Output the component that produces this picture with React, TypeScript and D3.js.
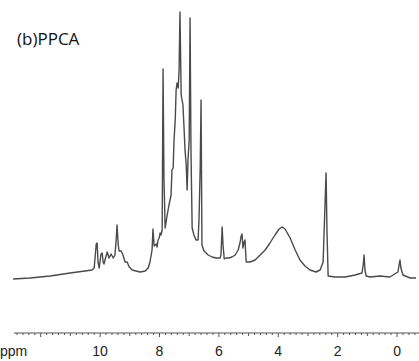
import React from "react";
import * as d3 from "d3";

// Spectrum trace: chemical shift (ppm) and intensity (arbitrary units)
const ppmValues: number[] = [
  12.93, 12.36, 11.68, 11.01, 10.51, 10.27, 10.2, 10.13, 10.1, 10.07, 10.03, 9.97, 9.93, 9.9, 9.87,
  9.8, 9.76, 9.7, 9.63, 9.56, 9.5, 9.46, 9.43, 9.39, 9.36, 9.29, 9.23, 9.16, 9.09, 9.02, 8.92,
  8.79, 8.65, 8.48, 8.38, 8.32, 8.25, 8.22, 8.18, 8.11, 8.08, 8.05, 8.01, 7.98, 7.95, 7.91, 7.88,
  7.85, 7.81, 7.74, 7.68, 7.61, 7.58, 7.54, 7.51, 7.47, 7.44, 7.41, 7.37, 7.34, 7.31, 7.27, 7.24,
  7.21, 7.17, 7.14, 7.1, 7.07, 7.04, 7.0, 6.97, 6.94, 6.9, 6.84, 6.77, 6.7, 6.67, 6.63, 6.6, 6.57,
  6.5, 6.36, 6.23, 6.09, 5.96, 5.93, 5.89, 5.86, 5.82, 5.76, 5.66, 5.56, 5.45, 5.35, 5.29, 5.25,
  5.22, 5.19, 5.15, 5.12, 5.08, 4.95, 4.78, 4.61, 4.44, 4.28, 4.11, 3.97, 3.87, 3.77, 3.6, 3.43,
  3.27, 3.1, 2.93, 2.73, 2.59, 2.49, 2.42, 2.39, 2.36, 2.32, 2.09, 1.75, 1.41, 1.18, 1.14, 1.11,
  1.08, 1.04, 0.91, 0.57, 0.24, -0.03, -0.07, -0.1, -0.13, -0.2, -0.44, -0.64,
];
const intensityValues: number[] = [
  1, 2, 4, 7, 9, 10, 12, 36, 37, 18, 12, 26, 27, 18, 16,
  24, 28, 22, 26, 22, 25, 40, 55, 35, 29, 29, 25, 18, 18, 13, 10,
  9, 8, 9, 12, 18, 30, 51, 34, 36, 33, 40, 42, 47, 45, 50, 211,
  102, 52, 65, 75, 85, 110, 112, 140, 160, 190, 197, 192, 210, 268, 185, 180,
  175, 150, 130, 115, 90, 120, 140, 262, 130, 52, 45, 40, 40, 60, 110, 180, 35,
  29, 25, 23, 22, 22, 25, 53, 35, 21, 22, 22, 23, 25, 30, 37, 44,
  46, 32, 38, 40, 18, 18, 20, 25, 30, 37, 45, 51, 53, 51, 42, 30,
  20, 14, 10, 8, 10, 18, 80, 107, 50, 4, 3, 3, 5, 7, 15, 25,
  10, 4, 3, 4, 3, 8, 15, 20, 12, 5, 2, 2,
];

const axisMin = -0.74;
const axisMax = 12.9;
const majorTickLabels: number[] = [10, 8, 6, 4, 2, 0];
const axisUnit = "ppm";
const title = "(b)PPCA";

export default function App() {
  const width = 419;
  const height = 361;
  const axisY = 333;

  const x = d3.scaleLinear().domain([axisMax, axisMin]).range([14, 419]);
  const y = d3.scaleLinear().domain([0, 270]).range([280, 10]);

  const pts: [number, number][] = ppmValues.map((p, i) => [p, intensityValues[i]]);
  const line = d3
    .line<[number, number]>()
    .x((d) => x(d[0]))
    .y((d) => y(d[1]))
    .curve(d3.curveLinear);

  const minorTicks = d3.range(-0.6, 12.81, 0.2).map((v) => Math.round(v * 10) / 10);

  return (
    <svg
      width={width}
      height={height}
      style={{ position: "absolute", left: 0, top: 0, background: "#fff" }}
    >
      <text
        x={17}
        y={45}
        fontFamily="'Open Sans', 'Noto Sans', sans-serif"
        fontSize={17}
        fill="#111"
      >
        {title}
      </text>
      <path d={line(pts) || ""} fill="none" stroke="#4a4a4a" strokeWidth={1.4} strokeLinejoin="round" />
      <line x1={14} x2={419} y1={axisY} y2={axisY} stroke="#555" strokeWidth={1} />
      {minorTicks.map((t) => {
        const isInt = Math.abs(t - Math.round(t)) < 1e-6;
        const isMajor = isInt && Math.round(t) % 2 === 0;
        const len = isMajor ? 4 : isInt ? 3 : 2;
        return (
          <line
            key={t}
            x1={x(t)}
            x2={x(t)}
            y1={axisY}
            y2={axisY + len}
            stroke="#555"
            strokeWidth={1}
          />
        );
      })}
      {majorTickLabels.map((t) => (
        <text
          key={t}
          x={x(t)}
          y={356}
          textAnchor="middle"
          fontFamily="'Liberation Sans', Arial, sans-serif"
          fontSize={14}
          fill="#222"
        >
          {t}
        </text>
      ))}
      <text x={0} y={356} fontFamily="'Liberation Sans', Arial, sans-serif" fontSize={14} fill="#222">
        {axisUnit}
      </text>
    </svg>
  );
}
